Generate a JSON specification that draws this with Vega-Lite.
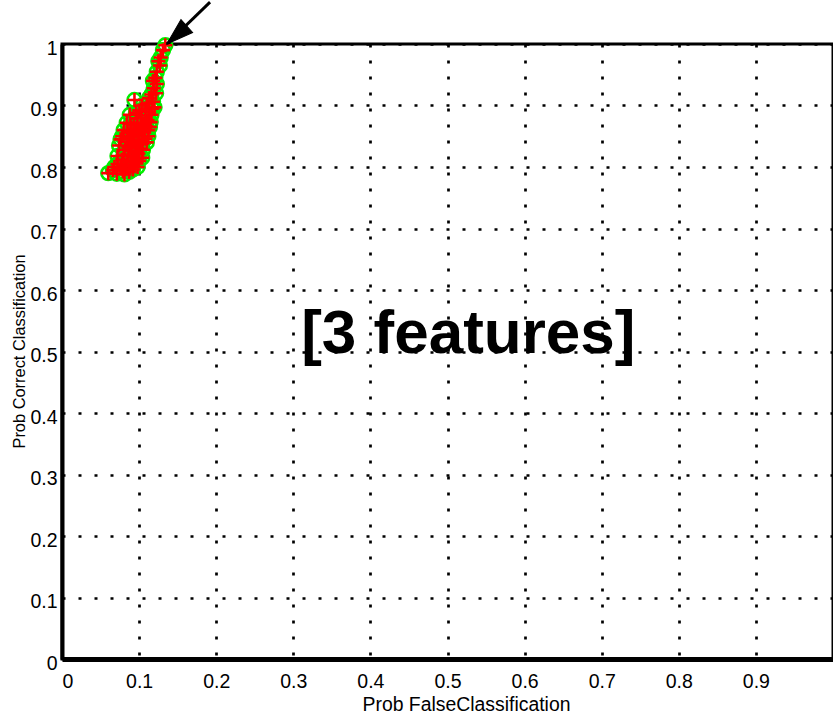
{
  "$schema": "https://vega.github.io/schema/vega-lite/v6.json",
  "autosize": "none",
  "width": 771,
  "height": 615,
  "padding": {"left": 62, "top": 44, "right": 0, "bottom": 55},
  "background": "white",
  "config": {
    "view": {"stroke": "black", "strokeWidth": 3},
    "font": "Liberation Sans"
  },
  "datasets": {
    "pts": [
      {"x":0.134,"y":0.998},{"x":0.131,"y":0.99},{"x":0.128,"y":0.978},{"x":0.125,"y":0.972},
      {"x":0.127,"y":0.965},{"x":0.123,"y":0.955},{"x":0.121,"y":0.945},{"x":0.118,"y":0.94},
      {"x":0.123,"y":0.935},{"x":0.119,"y":0.928},{"x":0.122,"y":0.92},{"x":0.116,"y":0.918},
      {"x":0.113,"y":0.912},{"x":0.094,"y":0.909},{"x":0.118,"y":0.906},{"x":0.110,"y":0.903},
      {"x":0.104,"y":0.90},{"x":0.120,"y":0.897},{"x":0.108,"y":0.895},{"x":0.113,"y":0.89},
      {"x":0.100,"y":0.892},{"x":0.116,"y":0.885},{"x":0.103,"y":0.884},{"x":0.108,"y":0.88},
      {"x":0.097,"y":0.879},{"x":0.111,"y":0.876},{"x":0.098,"y":0.872},{"x":0.105,"y":0.87},
      {"x":0.093,"y":0.868},{"x":0.109,"y":0.866},{"x":0.095,"y":0.862},{"x":0.101,"y":0.86},
      {"x":0.090,"y":0.858},{"x":0.106,"y":0.857},{"x":0.092,"y":0.853},{"x":0.098,"y":0.851},
      {"x":0.104,"y":0.85},{"x":0.088,"y":0.848},{"x":0.108,"y":0.846},{"x":0.094,"y":0.844},
      {"x":0.100,"y":0.842},{"x":0.085,"y":0.841},{"x":0.104,"y":0.838},{"x":0.091,"y":0.836},
      {"x":0.097,"y":0.834},{"x":0.086,"y":0.832},{"x":0.101,"y":0.83},{"x":0.082,"y":0.828},
      {"x":0.089,"y":0.826},{"x":0.095,"y":0.825},{"x":0.099,"y":0.822},{"x":0.080,"y":0.82},
      {"x":0.086,"y":0.818},{"x":0.092,"y":0.816},{"x":0.097,"y":0.814},{"x":0.078,"y":0.812},
      {"x":0.084,"y":0.81},{"x":0.090,"y":0.808},{"x":0.095,"y":0.806},{"x":0.081,"y":0.803},
      {"x":0.088,"y":0.801},{"x":0.076,"y":0.799},{"x":0.083,"y":0.797},{"x":0.092,"y":0.796},
      {"x":0.079,"y":0.793},{"x":0.087,"y":0.792},{"x":0.060,"y":0.79},{"x":0.071,"y":0.789},
      {"x":0.081,"y":0.788},{"x":0.089,"y":0.87},{"x":0.112,"y":0.86},{"x":0.115,"y":0.873},
      {"x":0.117,"y":0.895},{"x":0.096,"y":0.888},{"x":0.086,"y":0.855},{"x":0.090,"y":0.84},
      {"x":0.102,"y":0.865},{"x":0.098,"y":0.80},{"x":0.100,"y":0.81},{"x":0.068,"y":0.80},
      {"x":0.072,"y":0.805},{"x":0.066,"y":0.795},{"x":0.078,"y":0.85},{"x":0.080,"y":0.86},
      {"x":0.074,"y":0.835},{"x":0.076,"y":0.845},{"x":0.112,"y":0.85},{"x":0.114,"y":0.865},
      {"x":0.110,"y":0.84},{"x":0.084,"y":0.872},{"x":0.088,"y":0.885},{"x":0.105,"y":0.828},
      {"x":0.072,"y":0.818},{"x":0.104,"y":0.815}
    ],
    "arrow": [{"x":0.192,"y":1.068,"x2":0.136,"y2":1.0}],
    "label": [{"x":0.527,"y":0.497,"text":"[3 features]"}]
  },
  "layer": [
    {
      "data": {"name": "pts"},
      "mark": {"type": "point", "shape": "circle", "filled": false, "stroke": "#00ee00", "strokeWidth": 2.6, "size": 190, "opacity": 1},
      "encoding": {
        "x": {
          "field": "x", "type": "quantitative",
          "scale": {"domain": [0, 1], "nice": false, "zero": false},
          "axis": {
            "values": [0,0.1,0.2,0.3,0.4,0.5,0.6,0.7,0.8,0.9,1],
            "labelExpr": "datum.value >= 1 ? '' : format(datum.value, '~g')",
            "grid": true, "gridColor": "black", "gridDash": [3, 13], "gridWidth": 2.7, "gridOpacity": 1,
            "domainColor": "black", "domainWidth": 5,
            "ticks": false,
            "labelFontSize": 19.5, "labelColor": "black", "labelPadding": 13, "labelFont": "Liberation Sans",
            "title": "Prob FalseClassification",
            "titleFont": "Liberation Sans", "titleFontSize": 19.4, "titleFontWeight": "normal", "titleColor": "black",
            "titleX": 404, "titleY": 51, "titleBaseline": "alphabetic", "titleAlign": "center"
          }
        },
        "y": {
          "field": "y", "type": "quantitative",
          "scale": {"domain": [0, 1], "nice": false, "zero": false},
          "axis": {
            "values": [0,0.1,0.2,0.3,0.4,0.5,0.6,0.7,0.8,0.9,1],
            "format": "~g",
            "grid": true, "gridColor": "black", "gridDash": [3, 13], "gridWidth": 2.7, "gridOpacity": 1,
            "domainColor": "black", "domainWidth": 4,
            "ticks": false,
            "labelFontSize": 19.5, "labelColor": "black", "labelPadding": 5, "labelOffset": 4, "labelFont": "Liberation Sans",
            "title": "Prob Correct Classification",
            "titleFont": "Liberation Sans", "titleFontSize": 16.4, "titleFontWeight": "normal", "titleColor": "black",
            "titleAngle": -90, "titleX": -38, "titleY": 307, "titleBaseline": "alphabetic", "titleAlign": "center"
          }
        }
      }
    },
    {
      "data": {"name": "pts"},
      "mark": {"type": "point", "shape": "M-1,0L1,0M0,-1L0,1", "filled": false, "stroke": "#ff0000", "strokeWidth": 2.6, "size": 196, "opacity": 1},
      "encoding": {
        "x": {"field": "x", "type": "quantitative"},
        "y": {"field": "y", "type": "quantitative"}
      }
    },
    {
      "data": {"name": "arrow"},
      "mark": {"type": "rule", "stroke": "black", "strokeWidth": 3},
      "encoding": {
        "x": {"field": "x", "type": "quantitative"},
        "y": {"field": "y", "type": "quantitative"},
        "x2": {"field": "x2"},
        "y2": {"field": "y2"}
      }
    },
    {
      "data": {"name": "arrow"},
      "mark": {"type": "point", "shape": "M0,0L-0.65,2L0.65,2Z", "filled": true, "fill": "black", "stroke": "black", "strokeWidth": 1, "size": 720, "angle": 228, "opacity": 1},
      "encoding": {
        "x": {"field": "x2", "type": "quantitative"},
        "y": {"field": "y2", "type": "quantitative"}
      }
    },
    {
      "data": {"name": "label"},
      "mark": {"type": "text", "font": "Liberation Sans", "fontWeight": "bold", "fontSize": 62, "align": "center", "baseline": "alphabetic", "color": "black"},
      "encoding": {
        "x": {"field": "x", "type": "quantitative"},
        "y": {"field": "y", "type": "quantitative"},
        "text": {"field": "text"}
      }
    }
  ]
}
